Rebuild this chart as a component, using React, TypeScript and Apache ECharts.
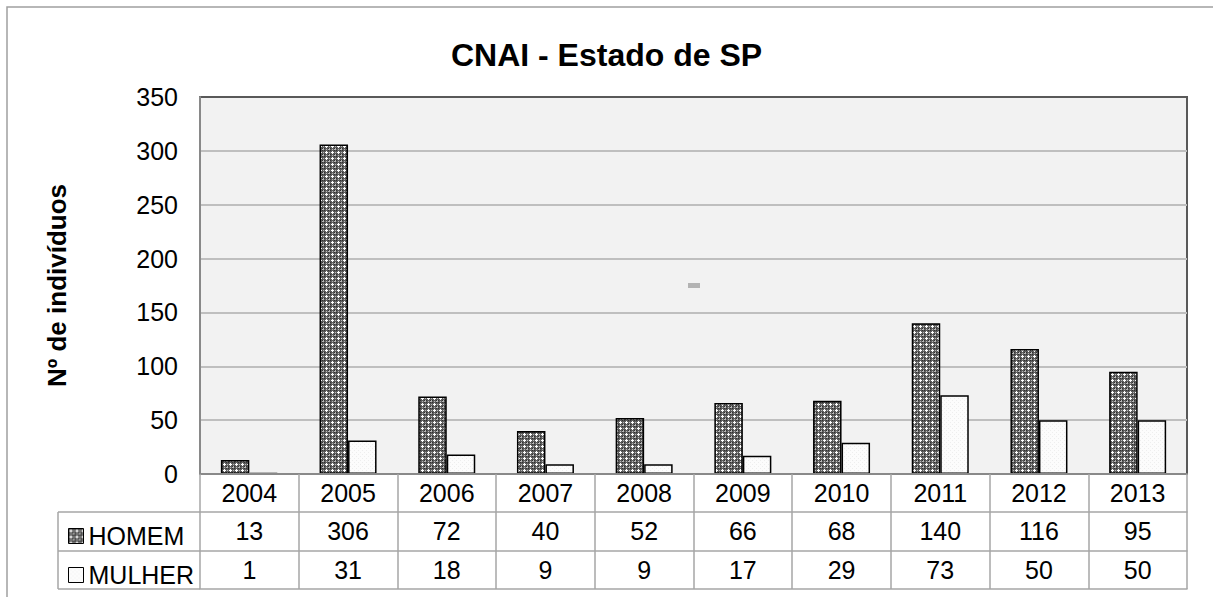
import React, { useEffect, useRef } from 'react';
import * as echarts from 'echarts';

const years = ['2004', '2005', '2006', '2007', '2008', '2009', '2010', '2011', '2012', '2013'];
const homem = [13, 306, 72, 40, 52, 66, 68, 140, 116, 95];
const mulher = [1, 31, 18, 9, 9, 17, 29, 73, 50, 50];
const seriesNames = ['HOMEM', 'MULHER'];
const yMin = 0;
const yMax = 350;
const yStep = 50;

const FONT = "'Liberation Sans', Arial, sans-serif";

function makeTile(size: number, draw: (ctx: CanvasRenderingContext2D) => void): string {
  const c = document.createElement('canvas');
  c.width = size;
  c.height = size;
  const ctx = c.getContext('2d') as CanvasRenderingContext2D;
  draw(ctx);
  return c.toDataURL();
}

export default function App() {
  const ref = useRef<HTMLDivElement>(null);
  useEffect(() => {
    if (!ref.current) return;
    const chart = echarts.init(ref.current, null, { renderer: 'svg' });

    const homemTile = makeTile(6, (ctx) => {
      ctx.fillStyle = '#5c5c5c';
      ctx.fillRect(0, 0, 6, 6);
      ctx.fillStyle = '#ffffff';
      [[2, 1], [1, 2], [2, 2], [3, 2], [2, 3]].forEach(([x, y]) => ctx.fillRect(x, y, 1, 1));
      ctx.fillStyle = '#b8b8b8';
      [[5, 5], [5, 2], [2, 5], [4, 5], [5, 4]].forEach(([x, y]) => ctx.fillRect(x, y, 1, 1));
      ctx.fillStyle = '#303030';
      [[0, 0], [4, 4], [0, 4], [4, 0]].forEach(([x, y]) => ctx.fillRect(x, y, 1, 1));
    });
    const mulherTile = makeTile(4, (ctx) => {
      ctx.fillStyle = '#fcfcfc';
      ctx.fillRect(0, 0, 4, 4);
      ctx.fillStyle = '#eeeeee';
      ctx.fillRect(0, 0, 1, 1);
      ctx.fillRect(2, 2, 1, 1);
    });

    const homemFill = { image: homemTile, repeat: 'repeat', imageWidth: 6, imageHeight: 6 } as any;
    const mulherFill = { image: mulherTile, repeat: 'repeat', imageWidth: 4, imageHeight: 4 } as any;

    const tableLine = { color: '#a6a6a6', width: 1.5 };
    const labelStyle = { fontSize: 25, color: '#000', fontFamily: FONT, margin: 6, interval: 0, lineHeight: 26 };

    const L = 58;
    const gx = 200;

    const option: any = {
      animation: false,
      backgroundColor: '#ffffff',
      title: {
        text: 'CNAI - Estado de SP',
        left: 'center',
        top: 34,
        textStyle: { fontSize: 32, fontWeight: 'bold', color: '#000', fontFamily: FONT },
      },
      legend: {
        data: seriesNames,
        orient: 'vertical',
        left: 63,
        top: 518,
        itemWidth: 15,
        itemHeight: 15,
        itemGap: 13,
        icon: 'rect',
        selectedMode: false,
        itemStyle: { borderColor: '#000', borderWidth: 1 },
        textStyle: { fontSize: 25, color: '#000', fontFamily: FONT, lineHeight: 26 },
      },
      grid: {
        left: gx,
        top: 97,
        right: 26,
        bottom: 123,
        show: true,
        backgroundColor: '#f2f2f2',
        borderColor: '#595959',
        borderWidth: 2,
      },
      yAxis: {
        type: 'value',
        min: yMin,
        max: yMax,
        interval: yStep,
        name: 'Nº de indivíduos',
        nameLocation: 'middle',
        nameGap: 130,
        nameTextStyle: { fontSize: 26, fontWeight: 'bold', color: '#000', fontFamily: FONT },
        axisLine: { show: true, lineStyle: { color: '#898989', width: 2 } },
        axisTick: { show: false },
        splitLine: { show: true, showMaxLine: false, showMinLine: false, lineStyle: { color: '#bfbfbf', width: 2 } },
        axisLabel: { fontSize: 25, color: '#000', fontFamily: FONT, margin: 22 },
      },
      xAxis: [
        {
          type: 'category',
          data: years,
          position: 'bottom',
          boundaryGap: true,
          axisLine: { show: true, lineStyle: { color: '#898989', width: 2 } },
          axisTick: { show: true, length: 38, interval: 0, lineStyle: tableLine },
          axisLabel: labelStyle,
          z: 5,
        },
        {
          type: 'category',
          data: homem.map(String),
          position: 'bottom',
          offset: 38,
          boundaryGap: true,
          axisLine: { show: true, lineStyle: tableLine },
          axisTick: { show: true, length: 39, interval: 0, lineStyle: tableLine },
          axisLabel: labelStyle,
        },
        {
          type: 'category',
          data: mulher.map(String),
          position: 'bottom',
          offset: 77,
          boundaryGap: true,
          axisLine: { show: true, lineStyle: tableLine },
          axisTick: { show: true, length: 38, interval: 0, lineStyle: tableLine },
          axisLabel: labelStyle,
        },
        {
          type: 'category',
          data: years,
          position: 'bottom',
          offset: 115,
          boundaryGap: true,
          axisLine: { show: true, lineStyle: tableLine },
          axisTick: { show: false },
          axisLabel: { show: false },
        },
      ],
      series: [
        {
          name: seriesNames[0],
          type: 'bar',
          xAxisIndex: 0,
          yAxisIndex: 0,
          data: homem,
          barWidth: 28.5,
          barGap: '0%',
          itemStyle: { color: homemFill, borderColor: '#000', borderWidth: 1.5 },
        },
        {
          name: seriesNames[1],
          type: 'bar',
          xAxisIndex: 0,
          yAxisIndex: 0,
          data: mulher,
          barWidth: 28.5,
          barGap: '0%',
          itemStyle: { color: mulherFill, borderColor: '#000', borderWidth: 1.5 },
        },
      ],
      graphic: [
        {
          type: 'rect',
          shape: { x: 7, y: 7, width: 1240, height: 640 },
          style: { fill: 'none', stroke: '#a0a0a0', lineWidth: 1.5 },
          silent: true,
        },
        { type: 'line', shape: { x1: L, y1: 512, x2: gx, y2: 512 }, style: { stroke: '#a6a6a6', lineWidth: 1.5 } },
        { type: 'line', shape: { x1: L, y1: 551, x2: gx, y2: 551 }, style: { stroke: '#a6a6a6', lineWidth: 1.5 } },
        { type: 'line', shape: { x1: L, y1: 589, x2: gx, y2: 589 }, style: { stroke: '#a6a6a6', lineWidth: 1.5 } },
        { type: 'line', shape: { x1: L, y1: 512, x2: L, y2: 589 }, style: { stroke: '#a6a6a6', lineWidth: 1.5 } },
        { type: 'rect', shape: { x: 688, y: 283, width: 12, height: 5 }, style: { fill: '#b3b3b3' }, silent: true },
      ],
    };

    chart.setOption(option);
    return () => chart.dispose();
  }, []);

  return (
    <div
      ref={ref}
      style={{ position: 'absolute', left: 0, top: 0, width: 1213, height: 597 }}
    />
  );
}
